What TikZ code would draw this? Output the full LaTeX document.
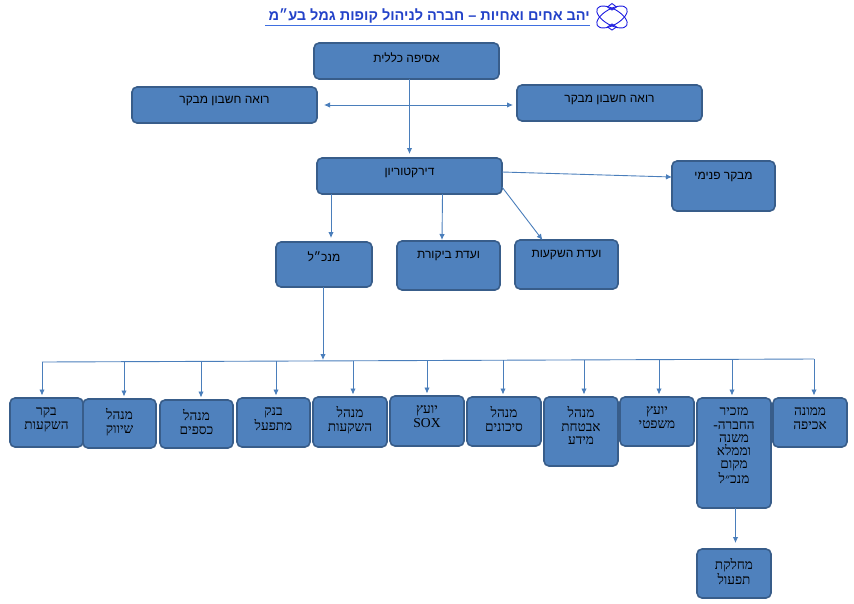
\documentclass[tikz,border=0pt]{standalone}
\usepackage{fontspec}
\usetikzlibrary{arrows.meta}
\TeXXeTstate=1
\newfontfamily\hebsans[Script=Hebrew]{Liberation Sans}
\newfontfamily\hebserif[Script=Hebrew]{Liberation Serif}
\newcommand{\rl}[1]{\beginR #1\endR}
\newcommand{\sanstext}{\hebsans\fontsize{12}{13.3}\selectfont}
\newcommand{\seriftext}{\hebserif\fontsize{13.6}{13.3}\selectfont}
\definecolor{boxfill}{HTML}{4F81BD}
\definecolor{boxedge}{HTML}{385D8A}
\definecolor{linkblue}{HTML}{4A7EBB}
\definecolor{titleblue}{HTML}{2342C8}
\definecolor{ruleblue}{HTML}{3F6FE0}
\definecolor{logoblue}{HTML}{1C1CE0}
\tikzset{
    orgbox/.style={draw=boxedge,fill=boxfill,line width=1.6pt,rounded corners=5pt,outer sep=0pt,inner sep=0pt},
    boxtext/.style={anchor=north,align=center,inner sep=0pt,text=black},
    link/.style={draw=linkblue,line width=.9pt},
    logoline/.style={draw=logoblue,line width=.9pt},
}
% #1 name, #2 #3 top left, #4 #5 bottom right, #6 font, #7 gap above text, #8 text
\newcommand{\orgnode}[8]{
    \node[orgbox,minimum width=#4pt-#2pt,minimum height=#5pt-#3pt] (#1) at ({(#2+#4)/2},{(#3+#5)/2}) {};
    \node[boxtext,font=#6] (#1t) at ([yshift=-#7pt]#1.north) {#8};
}
\begin{document}
\begin{tikzpicture}[>={Latex[length=6pt,width=5.5pt]},x=1pt,y=-1pt]
    \useasboundingbox (0,0) rectangle (854,603);
    % title
    \node[anchor=east,inner sep=0pt,text=titleblue,font=\hebsans\bfseries\fontsize{14.5}{16}\selectfont] (title) at (590,16) {\rl{יהב אחים ואחיות – חברה לניהול קופות גמל בע״מ}};
    \draw[ruleblue,line width=.9pt] (265,25) -- (590,25);
    % logo
    \draw[logoline,rotate around={30:(612,17)}] (612,17) ellipse (17 and 8);
    \draw[logoline,rotate around={-30:(612,17)}] (612,17) ellipse (17 and 8);
    \draw[logoline] (612,3.5) -- (616.5,7) -- (612,10) -- (607.5,7) -- cycle;
    \draw[logoline] (612,30) -- (616.5,27) -- (612,24) -- (607.5,27) -- cycle;
    % top levels
    \orgnode{general}{314}{43}{499}{79}{\sanstext}{9.5}{\rl{אסיפה כללית}}
    \orgnode{auditl}{132}{87}{317}{123}{\sanstext}{9}{\rl{רואה חשבון מבקר}}
    \orgnode{auditr}{517}{85}{702}{121}{\sanstext}{9.5}{\rl{רואה חשבון מבקר}}
    \orgnode{board}{317}{158}{502}{194}{\sanstext}{10}{\rl{דירקטוריון}}
    \orgnode{internal}{672}{161}{775}{211}{\sanstext}{11}{\rl{מבקר פנימי}}
    \orgnode{ceo}{276}{242}{372}{287}{\sanstext}{10}{\rl{מנכ״ל}}
    \orgnode{auditcom}{397}{241}{500}{290}{\sanstext}{10}{\rl{ועדת ביקורת}}
    \orgnode{investcom}{515}{240}{618}{289}{\sanstext}{10}{\rl{ועדת השקעות}}
    % bottom row
    \orgnode{invcheck}{10}{398}{83}{447}{\seriftext}{9.5}{\rl{בקר}\\\rl{השקעות}}
    \orgnode{marketing}{83}{399}{156}{448}{\seriftext}{9.5}{\rl{מנהל}\\\rl{שיווק}}
    \orgnode{money}{160}{400}{233}{448}{\seriftext}{9.5}{\rl{מנהל}\\\rl{כספים}}
    \orgnode{bank}{237}{398}{310}{447}{\seriftext}{9.5}{\rl{בנק}\\\rl{מתפעל}}
    \orgnode{invest}{313}{397}{387}{447}{\seriftext}{9.5}{\rl{מנהל}\\\rl{השקעות}}
    \orgnode{sox}{390}{396}{464}{446}{\seriftext}{9.5}{\rl{יועץ}\\SOX}
    \orgnode{risk}{467}{397}{541}{446}{\seriftext}{9.5}{\rl{מנהל}\\\rl{סיכונים}}
    \orgnode{infosec}{544}{397}{618}{466}{\seriftext}{9.5}{\rl{מנהל}\\\rl{אבטחת}\\\rl{מידע}}
    \orgnode{legal}{620}{397}{694}{446}{\seriftext}{9.5}{\rl{יועץ}\\\rl{משפטי}}
    \orgnode{secretary}{697}{398}{771}{508}{\seriftext}{9.5}{\rl{מזכיר}\\\rl{החברה-}\\\rl{משנה}\\\rl{וממלא}\\\rl{מקום}\\\rl{מנכ״ל}}
    \orgnode{enforce}{773}{398}{847}{447}{\seriftext}{9.5}{\rl{ממונה}\\\rl{אכיפה}}
    \orgnode{ops}{697}{549}{771}{598}{\seriftext}{9.5}{\rl{מחלקת}\\\rl{תפעול}}
    % links
    \draw[link,->] (general.south -| board.north) -- ([yshift=4pt]board.north);
    \draw[link,<->,shorten <=7pt,shorten >=4pt] (auditl.east) -- (auditl.east -| auditr.west);
    \draw[link,->] ([yshift=4pt]board.east) -- ([yshift=9pt]internal.west);
    \draw[link,->] ([xshift=-78.5pt]board.south) -- ([xshift=7pt,yshift=4pt]ceo.north);
    \draw[link,->] ([xshift=33pt]board.south) -- ([xshift=-6.5pt,yshift=1pt]auditcom.north);
    \draw[link,->] ([yshift=7pt]board.south east) -- ([xshift=-24pt]investcom.north);
    \coordinate (busl) at (42,362);
    \coordinate (busr) at (814,359);
    \coordinate (busm) at (323,360);
    \draw[link] (busl) -- (busr);
    \draw[link,->] (ceo.south -| busm) -- (busm);
    \foreach \nm/\dx/\by in {invcheck/42/362,marketing/124/361.7,money/201/361.4,bank/276/361,invest/353/360.7,sox/427/360.4,risk/503/360,infosec/584/360,legal/659/359.7,secretary/732/359.4,enforce/814/359}
        \draw[link,->,shorten >=2.5pt] (\dx,\by) -- (\dx,0 |- \nm.north);
    \draw[link,->] ([xshift=1.5pt]secretary.south) -- ([xshift=1.5pt,yshift=6pt]ops.north);
\end{tikzpicture}
\end{document}
